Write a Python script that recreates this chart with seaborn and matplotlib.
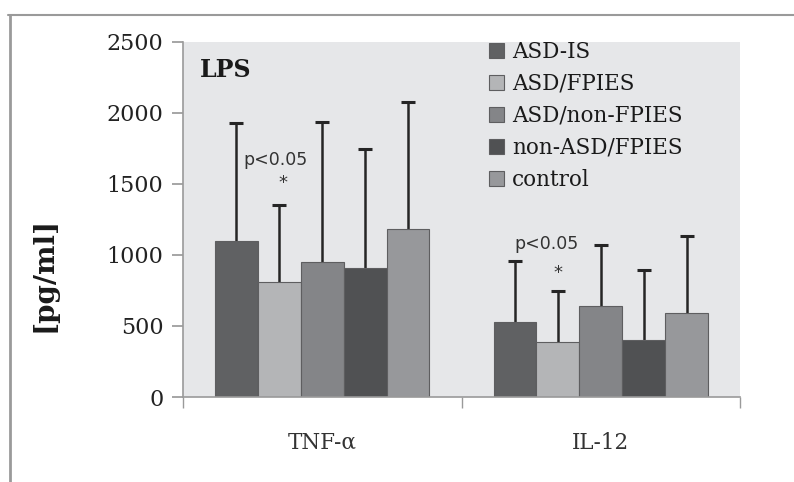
import seaborn as sns
import matplotlib.pyplot as plt
import pandas as pd
from matplotlib.lines import Line2D

# cytokine release after LPS stimulation
cytokines = ["TNF-\u03b1", "IL-12"]
groups = ["ASD-IS", "ASD/FPIES", "ASD/non-FPIES", "non-ASD/FPIES", "control"]
tnf_mean = [1100, 810, 950, 905, 1180]
tnf_sd = [830, 545, 990, 840, 900]
il12_mean = [525, 385, 640, 400, 595]
il12_sd = [435, 360, 430, 495, 540]
colors = ["#606163", "#b4b5b7", "#848588", "#505153", "#97989b"]


def main():
    rows = []
    for g, m1, s1, m2, s2 in zip(groups, tnf_mean, tnf_sd, il12_mean, il12_sd):
        rows.append({"cytokine": cytokines[0], "group": g, "value": m1, "sd": s1})
        rows.append({"cytokine": cytokines[1], "group": g, "value": m2, "sd": s2})
    df = pd.DataFrame(rows)

    sns.set_theme(style="ticks")
    plt.rcParams["font.family"] = ["DejaVu Serif"]

    fig = plt.figure(figsize=(7.94, 4.82), dpi=100)
    ax = fig.add_axes([183 / 794, 1 - 397 / 482, (740 - 183) / 794, (397 - 42) / 482])
    ax.set_facecolor("#e6e7e9")

    sns.barplot(
        data=df, x="cytokine", y="value", hue="group",
        order=cytokines, hue_order=groups, palette=colors,
        errorbar=None, width=0.77, saturation=1,
        edgecolor="#5e5e60", linewidth=0.8, ax=ax,
    )
    for p in ax.patches:
        p.set_zorder(3)

    # symmetric bars drawn behind the bars, so only the upper half shows
    for cont, g in zip(ax.containers, groups):
        sub = df[df["group"] == g].set_index("cytokine").loc[cytokines]
        xs = [b.get_x() + b.get_width() / 2 for b in cont]
        ax.errorbar(xs, sub["value"], yerr=sub["sd"],
                    fmt="none", ecolor="#252525", elinewidth=1.8,
                    capsize=5, capthick=2.2, zorder=2)

    ax.set_ylim(0, 2500)
    ax.set_yticks(range(0, 2501, 500))
    ax.set_xlim(-0.5, 1.5)
    ax.set_xticks([-0.5, 0.5, 1.5], minor=True)
    ax.tick_params(axis="x", which="major", length=0, labelsize=15.5, pad=25)
    ax.tick_params(axis="x", which="minor", length=8, color="#9a9a9a", direction="out")
    ax.tick_params(axis="y", length=8, color="#9a9a9a", labelsize=16, pad=6)
    for lab in ax.get_xticklabels():
        lab.set_color("#333333")
    for lab in ax.get_yticklabels():
        lab.set_color("#222222")
    for s in ["top", "right"]:
        ax.spines[s].set_visible(False)
    for s in ["left", "bottom"]:
        ax.spines[s].set_color("#9a9a9a")
        ax.spines[s].set_linewidth(1.2)
        ax.spines[s].set_zorder(4)

    ax.set_xlabel("")
    ax.set_ylabel("[pg/ml]", fontsize=20, fontweight="bold", color="#1a1a1a")
    ax.yaxis.set_label_coords(-0.225, 0.345)

    ax.text(0.03, 0.92, "LPS", transform=ax.transAxes, fontsize=17,
            fontweight="bold", color="#1a1a1a", va="center", zorder=5)
    ax.text(-0.285, 1670, "p<0.05", fontsize=12.5, family=["DejaVu Sans"],
            color="#333333", va="center", zorder=5)
    ax.text(-0.14, 1510, "*", fontsize=13, family=["DejaVu Sans"],
            color="#333333", ha="center", va="center", zorder=5)
    ax.text(0.69, 1075, "p<0.05", fontsize=12.5, family=["DejaVu Sans"],
            color="#333333", va="center", zorder=5)
    ax.text(0.845, 875, "*", fontsize=13, family=["DejaVu Sans"],
            color="#333333", ha="center", va="center", zorder=5)

    leg = ax.legend(loc="upper left", bbox_to_anchor=(480 / 794, 1 - 32 / 482),
                    bbox_transform=fig.transFigure, frameon=False, fontsize=15.5,
                    handlelength=0.7, handleheight=0.7, handletextpad=0.4,
                    labelspacing=0.47, borderaxespad=0)
    for t in leg.get_texts():
        t.set_color("#1a1a1a")

    # outer frame of the original figure panel
    fig.add_artist(Line2D([8 / 794, 1], [1 - 15 / 482] * 2, color="#9a9a9a", lw=1.5))
    fig.add_artist(Line2D([10 / 794] * 2, [0, 1 - 15 / 482], color="#9a9a9a", lw=2))

    plt.savefig("out.png", dpi=100)


if __name__ == "__main__":
    main()
